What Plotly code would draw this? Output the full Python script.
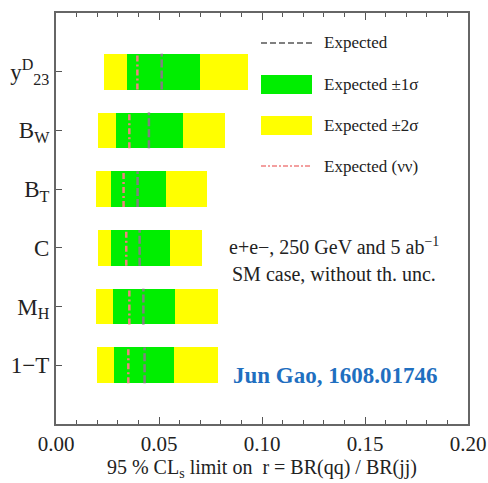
import plotly.graph_objects as go

categories = ["1\u2212T", "M<sub>H</sub>", "C", "B<sub>T</sub>", "B<sub>W</sub>", "y<sup>D</sup><sub>23</sub>"]
ypos = [0, 1, 2, 3, 4, 5]
lo2 = [0.0197, 0.0194, 0.0202, 0.0196, 0.0205, 0.0231]
hi2 = [0.0784, 0.0786, 0.0707, 0.0731, 0.0819, 0.0933]
lo1 = [0.0283, 0.0277, 0.0268, 0.0265, 0.0293, 0.0343]
hi1 = [0.0574, 0.0578, 0.0551, 0.0534, 0.0617, 0.0697]
expected = [0.0430, 0.0424, 0.0406, 0.0396, 0.0451, 0.0513]
expected_nn = [0.0351, 0.0356, 0.0341, 0.0328, 0.0356, 0.0395]
xticks = [0.00, 0.05, 0.10, 0.15, 0.20]
xticklabels = ["0.00", "0.05", "0.10", "0.15", "0.20"]

FONT = "Liberation Serif"
BAR_W = 0.61
YELLOW = "#ffff00"
GREEN = "#00ee00"
GRAY = "#808080"
RED = "#f08080"

fig = go.Figure()
fig.add_trace(go.Bar(orientation="h", y=ypos, base=lo2,
                     x=[h - l for h, l in zip(hi2, lo2)],
                     width=BAR_W, marker=dict(color=YELLOW, line=dict(width=0)),
                     showlegend=False, hoverinfo="skip"))
fig.add_trace(go.Bar(orientation="h", y=ypos, base=lo1,
                     x=[h - l for h, l in zip(hi1, lo1)],
                     width=BAR_W, marker=dict(color=GREEN, line=dict(width=0)),
                     showlegend=False, hoverinfo="skip"))


def vlines(vals):
    xs, ys = [], []
    for v, y in zip(vals, ypos):
        xs += [v, v, None]
        ys += [y - BAR_W / 2, y + BAR_W / 2, None]
    return xs, ys


xs, ys = vlines(expected)
fig.add_trace(go.Scatter(x=xs, y=ys, mode="lines",
                         line=dict(color=GRAY, width=2.5, dash="8px,3px"),
                         showlegend=False, hoverinfo="skip"))
xs, ys = vlines(expected_nn)
fig.add_trace(go.Scatter(x=xs, y=ys, mode="lines",
                         line=dict(color=RED, width=2.5, dash="6px,3px,2px,3px"),
                         showlegend=False, hoverinfo="skip"))

# Legend (drawn manually, paper coordinates)
L, R, T, B = 56, 468, 13, 424
W, H = 488, 483


def px(x):
    return (x - L) / (R - L)


def py(y):
    return (B - y) / (B - T)


shapes = []
shapes.append(dict(type="line", xref="paper", yref="paper", x0=px(261), x1=px(312),
                   y0=py(43), y1=py(43), line=dict(color=GRAY, width=2, dash="6px,3px")))
shapes.append(dict(type="rect", xref="paper", yref="paper", x0=px(261), x1=px(312),
                   y0=py(94), y1=py(75), fillcolor=GREEN, line=dict(width=0)))
shapes.append(dict(type="rect", xref="paper", yref="paper", x0=px(261), x1=px(312),
                   y0=py(135), y1=py(116), fillcolor=YELLOW, line=dict(width=0)))
shapes.append(dict(type="line", xref="paper", yref="paper", x0=px(261), x1=px(312),
                   y0=py(166), y1=py(166), line=dict(color=RED, width=1.5, dash="5px,2px,2px,2px")))

annotations = []
for txt, yy in [("Expected", 42), ("Expected \u00b11\u03c3", 84),
                ("Expected \u00b12\u03c3", 125), ("Expected (\u03bd\u03bd)", 166)]:
    annotations.append(dict(text=txt, xref="paper", yref="paper", x=px(322), y=py(yy),
                            xanchor="left", yanchor="middle", showarrow=False,
                            font=dict(family=FONT, size=17, color="#222")))
annotations.append(dict(text="e+e\u2212, 250 GeV and 5 ab<sup>\u22121</sup>", xref="paper", yref="paper",
                        x=px(334), y=py(246), xanchor="center", yanchor="middle", showarrow=False,
                        font=dict(family=FONT, size=20, color="#222")))
annotations.append(dict(text="SM case, without th. unc.", xref="paper", yref="paper",
                        x=px(334), y=py(274), xanchor="center", yanchor="middle", showarrow=False,
                        font=dict(family=FONT, size=20, color="#222")))
annotations.append(dict(text="<b>Jun Gao, 1608.01746</b>", xref="paper", yref="paper",
                        x=px(335), y=py(375), xanchor="center", yanchor="middle", showarrow=False,
                        font=dict(family=FONT, size=23, color="#1f6fc0")))

fig.update_layout(
    width=W, height=H,
    margin=dict(l=L, r=W - R, t=T, b=H - B),
    paper_bgcolor="white", plot_bgcolor="white",
    barmode="overlay", bargap=0,
    shapes=shapes, annotations=annotations,
    font=dict(family=FONT, color="#222"),
)
fig.update_xaxes(range=[0, 0.2], tickvals=xticks, ticktext=xticklabels,
                 ticks="inside", ticklen=7, tickwidth=1.2, tickcolor="#555",
                 minor=dict(dtick=0.01, ticks="inside", ticklen=4, tickwidth=1, tickcolor="#555"),
                 showline=True, linecolor="#666", linewidth=2, mirror="ticks",
                 showgrid=False, zeroline=False, automargin=False,
                 tickfont=dict(family=FONT, size=21, color="#222"),
                 title=dict(text="95 % CL<sub>s</sub> limit on  r = BR(qq) / BR(jj)",
                            font=dict(family=FONT, size=20, color="#222"), standoff=0))
fig.update_yaxes(range=[-1, 6], tickvals=ypos, ticktext=categories,
                 ticks="inside", ticklen=6, tickwidth=1.2, tickcolor="#555",
                 showline=True, linecolor="#666", linewidth=2, mirror=True,
                 showgrid=False, zeroline=False, automargin=False,
                 tickfont=dict(family=FONT, size=23, color="#222"))

fig.write_html("out.html")
